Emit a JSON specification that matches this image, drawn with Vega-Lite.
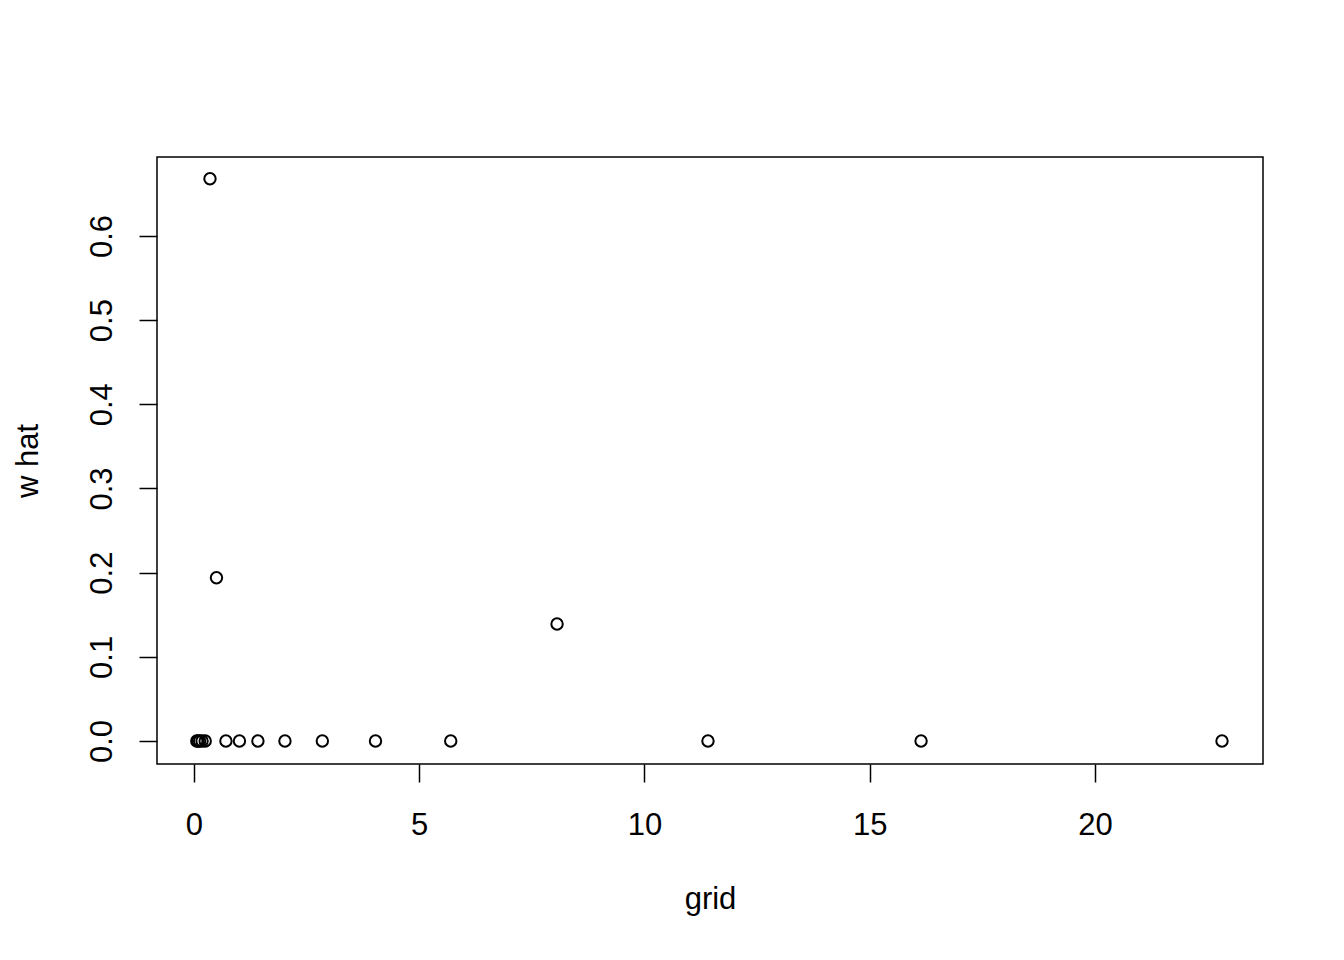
{
  "$schema": "https://vega.github.io/schema/vega-lite/v6.json",
  "autosize": {"type": "none"},
  "padding": {"left": 157, "top": 157, "right": 81, "bottom": 196},
  "width": 1106,
  "height": 607,
  "background": "white",
  "config": {
    "font": "Liberation Sans",
    "view": {"stroke": "black", "strokeWidth": 1.5},
    "axis": {
      "grid": false,
      "domain": false,
      "tickColor": "black",
      "tickWidth": 1.5,
      "tickSize": 18,
      "labelFont": "Liberation Sans",
      "labelFontSize": 31,
      "labelColor": "black",
      "titleFont": "Liberation Sans",
      "titleFontSize": 31,
      "titleFontWeight": "normal",
      "titleColor": "black"
    }
  },
  "data": {
    "values": [
      {"grid": 0.063, "what": 0},
      {"grid": 0.089, "what": 0},
      {"grid": 0.126, "what": 0},
      {"grid": 0.18, "what": 0},
      {"grid": 0.25, "what": 0},
      {"grid": 0.356, "what": 0.668},
      {"grid": 0.50, "what": 0.194},
      {"grid": 0.71, "what": 0},
      {"grid": 1.01, "what": 0},
      {"grid": 1.42, "what": 0},
      {"grid": 2.02, "what": 0},
      {"grid": 2.85, "what": 0},
      {"grid": 4.03, "what": 0},
      {"grid": 5.70, "what": 0},
      {"grid": 8.06, "what": 0.139},
      {"grid": 11.41, "what": 0},
      {"grid": 16.14, "what": 0},
      {"grid": 22.82, "what": 0}
    ]
  },
  "mark": {"type": "point", "shape": "circle", "filled": false, "color": "black", "size": 130, "strokeWidth": 2, "opacity": 1},
  "encoding": {
    "x": {
      "field": "grid",
      "type": "quantitative",
      "scale": {"domain": [-0.82, 23.73], "nice": false, "zero": false},
      "axis": {
        "title": "grid",
        "values": [0, 5, 10, 15, 20],
        "format": "d",
        "labelBaseline": "alphabetic",
        "labelPadding": 52,
        "labelFlush": false,
        "labelOverlap": false,
        "titleX": 553,
        "titleY": 144,
        "titleBaseline": "alphabetic",
        "titleAlign": "center"
      }
    },
    "y": {
      "field": "what",
      "type": "quantitative",
      "scale": {"domain": [-0.0273, 0.6938], "nice": false, "zero": false},
      "axis": {
        "title": "w hat",
        "values": [0, 0.1, 0.2, 0.3, 0.4, 0.5, 0.6],
        "format": ".1f",
        "labelAngle": -90,
        "labelAlign": "center",
        "labelBaseline": "alphabetic",
        "labelPadding": 28,
        "labelFlush": false,
        "labelOverlap": false,
        "titleAngle": -90,
        "titleX": -120,
        "titleY": 303.5,
        "titleBaseline": "alphabetic",
        "titleAlign": "center"
      }
    }
  }
}
